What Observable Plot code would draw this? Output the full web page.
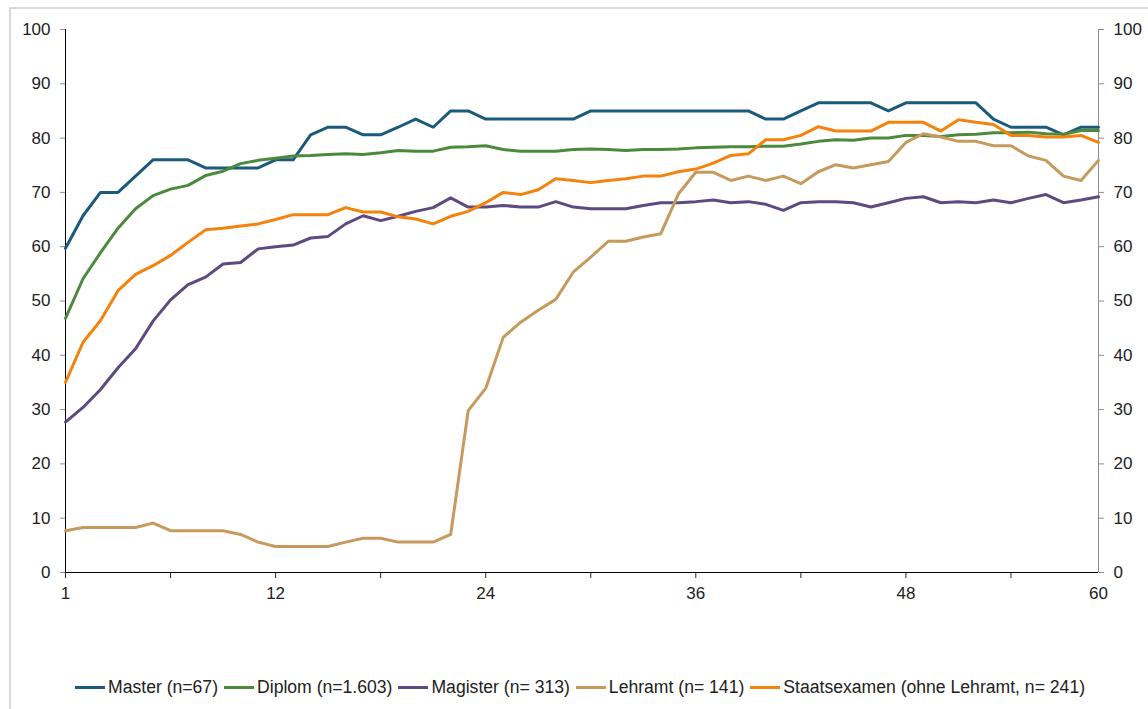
<!DOCTYPE html>
<html>
<head>
<meta charset="utf-8">
<script src="https://cdn.jsdelivr.net/npm/d3@7"></script>
<script src="https://cdn.jsdelivr.net/npm/@observablehq/plot@0.6"></script>
<style>
  html, body { margin: 0; padding: 0; background: #fff; overflow: hidden; }
  body { width: 1148px; height: 709px; position: relative; font-family: "Liberation Sans", Arial, sans-serif; }
  #frame { position: absolute; left: 9px; top: 7px; width: 1200px; height: 800px; border: 2px solid #d9d9d9; box-sizing: border-box; }
  #chart { position: absolute; left: 0; top: 0; }
  #legend { position: absolute; left: 75px; top: 677px; display: flex; align-items: center; font-size: 17.6px; color: #222; white-space: nowrap; }
  #legend .item { display: flex; align-items: center; margin-right: 6px; }
  #legend .sw { width: 30px; height: 3px; margin-right: 3px; }
</style>
</head>
<body>
<div id="frame"></div>
<div id="chart"></div>
<div id="legend"></div>
<script>
// Categories (months after graduation)
const months = Array.from({length: 60}, (_, i) => i + 1);

// Series names and colours
const seriesNames = [
  "Master (n=67)",
  "Diplom (n=1.603)",
  "Magister (n= 313)",
  "Lehramt (n= 141)",
  "Staatsexamen (ohne Lehramt, n= 241)"
];
const seriesColors = ["#1b5a7c", "#4b8a3c", "#5d4a80", "#c69a5c", "#f5820c"];

// Series values (percent)
const master = [59.7,65.7,70,70,73,76,76,76,74.5,74.5,74.5,74.5,76,76,80.6,82,82,80.6,80.6,82,83.5,82,85,85,83.5,83.5,83.5,83.5,83.5,83.5,85,85,85,85,85,85,85,85,85,85,83.5,83.5,85,86.5,86.5,86.5,86.5,85,86.5,86.5,86.5,86.5,86.5,83.5,82,82,82,80.6,82,82];
const diplom = [46.8,54.1,58.9,63.4,67,69.4,70.6,71.3,73.1,73.9,75.3,75.9,76.3,76.7,76.8,77.0,77.1,77.0,77.3,77.7,77.6,77.6,78.3,78.4,78.6,77.9,77.6,77.6,77.6,77.9,78.0,77.9,77.7,77.9,77.9,78.0,78.2,78.3,78.4,78.4,78.5,78.5,78.9,79.4,79.7,79.6,80.0,80.0,80.5,80.5,80.3,80.6,80.7,81.0,81.0,81.1,80.8,80.7,81.4,81.4];
const magister = [27.7,30.4,33.7,37.7,41.2,46.3,50.2,53.0,54.4,56.8,57.1,59.6,60.0,60.3,61.6,61.9,64.2,65.7,64.8,65.6,66.5,67.2,69.0,67.3,67.3,67.6,67.3,67.3,68.3,67.3,67.0,67.0,67.0,67.6,68.1,68.1,68.3,68.6,68.1,68.3,67.8,66.7,68.1,68.3,68.3,68.1,67.3,68.1,68.9,69.2,68.1,68.3,68.1,68.6,68.1,68.9,69.6,68.1,68.6,69.2];
const lehramt = [7.7,8.3,8.3,8.3,8.3,9.1,7.7,7.7,7.7,7.7,7.0,5.6,4.8,4.8,4.8,4.8,5.6,6.3,6.3,5.6,5.6,5.6,7.0,29.8,33.9,43.3,46.1,48.3,50.3,55.3,58.1,61.0,61.0,61.8,62.4,69.7,73.7,73.7,72.2,73.0,72.2,73.0,71.6,73.8,75.1,74.5,75.1,75.7,79.2,80.8,80.2,79.4,79.4,78.6,78.6,76.7,75.9,73.0,72.2,75.9];
const staatsexamen = [35.0,42.4,46.4,51.9,54.9,56.5,58.4,60.8,63.1,63.4,63.8,64.2,65.0,65.9,65.9,65.9,67.2,66.4,66.4,65.5,65.1,64.2,65.6,66.5,68.1,70.0,69.6,70.5,72.5,72.2,71.8,72.2,72.5,73.0,73.0,73.8,74.3,75.4,76.8,77.1,79.7,79.7,80.5,82.1,81.3,81.3,81.3,82.9,82.9,82.9,81.3,83.4,82.9,82.5,80.5,80.5,80.2,80.2,80.5,79.2];

// Axis ticks
const yTicks = [0,10,20,30,40,50,60,70,80,90,100];
const xTickMarks = [1,7,13,19,25,31,37,43,49,55];
const xLabelPos = [1,13,25,37,49,60];
const xLabels = ["1","12","24","36","48","60"];

const allSeries = [master, diplom, magister, lehramt, staatsexamen];
const data = [];
allSeries.forEach((vals, s) => vals.forEach((v, i) => data.push({series: seriesNames[s], month: months[i], value: v})));

const W = 1148, H = 640;
const plot = Plot.plot({
  width: W,
  height: H,
  marginLeft: 65,
  marginRight: 50,
  marginTop: 29,
  marginBottom: H - 572,
  style: {fontFamily: '"Liberation Sans", Arial, sans-serif', fontSize: "17px", color: "#222", background: "transparent"},
  x: {domain: [1, 60]},
  y: {domain: [0, 100]},
  color: {domain: seriesNames, range: seriesColors},
  marks: [
    Plot.axisY(yTicks, {anchor: "left", tickSize: 5, tickPadding: 10, stroke: "#8c8c8c", fill: "#222", label: null}),
    Plot.axisY(yTicks, {anchor: "right", tickSize: 5, tickPadding: 10, stroke: "#8c8c8c", fill: "#222", label: null}),
    Plot.axisX(xTickMarks, {anchor: "bottom", tickSize: 6, stroke: "#222", tickFormat: () => "", label: null}),
    Plot.axisX(xLabelPos, {anchor: "bottom", tickSize: 0, tickPadding: 14, fill: "#222", tickFormat: d => xLabels[xLabelPos.indexOf(d)], label: null}),
    Plot.ruleX([60], {stroke: "#8c8c8c", strokeWidth: 1}),
    Plot.ruleX([1], {stroke: "#000", strokeWidth: 1}),
    Plot.ruleY([0], {stroke: "#000", strokeWidth: 1.2}),
    Plot.line(data, {x: "month", y: "value", z: "series", stroke: "series", strokeWidth: 3, strokeLinejoin: "round", curve: "linear"})
  ]
});
document.getElementById("chart").appendChild(plot);

const legend = document.getElementById("legend");
seriesNames.forEach((name, i) => {
  const item = document.createElement("div");
  item.className = "item";
  const sw = document.createElement("span");
  sw.className = "sw";
  sw.style.background = seriesColors[i];
  const t = document.createElement("span");
  t.textContent = name;
  item.appendChild(sw);
  item.appendChild(t);
  legend.appendChild(item);
});
</script>
</body>
</html>
